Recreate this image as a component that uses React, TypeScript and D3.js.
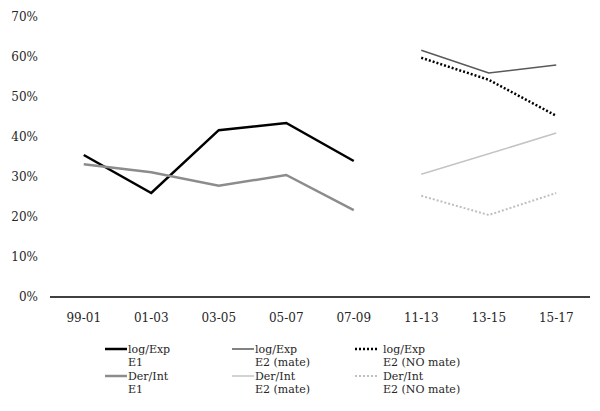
import * as d3 from 'd3';
import React, { useEffect, useRef } from 'react';

const categories = ['99-01', '01-03', '03-05', '05-07', '07-09', '11-13', '13-15', '15-17'];
const yTicks = [0, 10, 20, 30, 40, 50, 60, 70];

const logExpE1 = [35.5, 26, 41.7, 43.5, 34, null, null, null];
const derIntE1 = [33.2, 31.2, 27.8, 30.5, 21.7, null, null, null];
const logExpE2Mate = [null, null, null, null, null, 61.7, 56, 58];
const logExpE2NoMate = [null, null, null, null, null, 59.8, 54.3, 45.3];
const derIntE2Mate = [null, null, null, null, null, 30.7, 35.8, 41];
const derIntE2NoMate = [null, null, null, null, null, 25.3, 20.5, 26];

interface Series {
  name: string;
  sub: string;
  values: (number | null)[];
  color: string;
  width: number;
  dash: string | null;
}

const series: Series[] = [
  { name: 'log/Exp', sub: 'E1', values: logExpE1, color: '#000000', width: 2.5, dash: null },
  { name: 'log/Exp', sub: 'E2 (mate)', values: logExpE2Mate, color: '#595959', width: 1.5, dash: null },
  { name: 'log/Exp', sub: 'E2 (NO mate)', values: logExpE2NoMate, color: '#000000', width: 2.5, dash: '2,2' },
  { name: 'Der/Int', sub: 'E1', values: derIntE1, color: '#8c8c8c', width: 2.5, dash: null },
  { name: 'Der/Int', sub: 'E2 (mate)', values: derIntE2Mate, color: '#c4c4c4', width: 1.5, dash: null },
  { name: 'Der/Int', sub: 'E2 (NO mate)', values: derIntE2NoMate, color: '#bfbfbf', width: 2, dash: '2,2' },
];

const width = 600;
const height = 411;
const font = "'DejaVu Serif', serif";

export default function App() {
  const ref = useRef<SVGSVGElement>(null);

  useEffect(() => {
    const svg = d3.select(ref.current);
    svg.selectAll('*').remove();

    const x = d3.scaleBand().domain(categories).range([50, 590]);
    const y = d3.scaleLinear().domain([0, 70]).range([297, 17]);

    // y labels
    svg
      .append('g')
      .selectAll('text')
      .data(yTicks)
      .enter()
      .append('text')
      .attr('x', 38)
      .attr('y', (d) => y(d))
      .attr('dy', '0.35em')
      .attr('text-anchor', 'end')
      .style('font-family', font)
      .attr('font-size', 12)
      .attr('fill', '#262626')
      .text((d) => d + '%');

    // x axis line
    svg
      .append('line')
      .attr('x1', 50)
      .attr('x2', 590)
      .attr('y1', y(0))
      .attr('y2', y(0))
      .attr('stroke', '#000')
      .attr('stroke-width', 1.5);

    svg
      .append('g')
      .selectAll('text')
      .data(categories)
      .enter()
      .append('text')
      .attr('x', (d) => (x(d) as number) + x.bandwidth() / 2)
      .attr('y', 322)
      .attr('text-anchor', 'middle')
      .style('font-family', font)
      .attr('font-size', 12)
      .attr('fill', '#262626')
      .text((d) => d);

    const line = d3
      .line<number | null>()
      .defined((d) => d !== null)
      .x((d, i) => (x(categories[i]) as number) + x.bandwidth() / 2)
      .y((d) => y(d as number));

    series.forEach((s) => {
      svg
        .append('path')
        .attr('d', line(s.values))
        .attr('fill', 'none')
        .attr('stroke', s.color)
        .attr('stroke-width', s.width)
        .attr('stroke-dasharray', s.dash)
        .attr('stroke-linejoin', 'miter');
    });

    // legend: 3 columns, 2 rows
    const colX = [105, 232, 355];
    const rowY = [349, 376];
    series.forEach((s, i) => {
      const cx = colX[i % 3];
      const ry = rowY[Math.floor(i / 3)];
      const g = svg.append('g').attr('transform', `translate(${cx},${ry})`);
      g.append('line')
        .attr('x1', 0)
        .attr('x2', 22)
        .attr('y1', 0)
        .attr('y2', 0)
        .attr('stroke', s.color)
        .attr('stroke-width', s.width)
        .attr('stroke-dasharray', s.dash);
      const tx = s.dash ? 28 : 23;
      [s.name, s.sub].forEach((t, k) => {
        g.append('text')
          .attr('x', tx)
          .attr('y', k * 13.5)
          .attr('dy', '0.35em')
          .style('font-family', font)
          .attr('font-size', 11)
          .attr('fill', '#262626')
          .text(t);
      });
    });
  }, []);

  return (
    <svg
      ref={ref}
      width={width}
      height={height}
      viewBox={`0 0 ${width} ${height}`}
      style={{ position: 'absolute', left: 0, top: 0, background: '#fff' }}
    ></svg>
  );
}
